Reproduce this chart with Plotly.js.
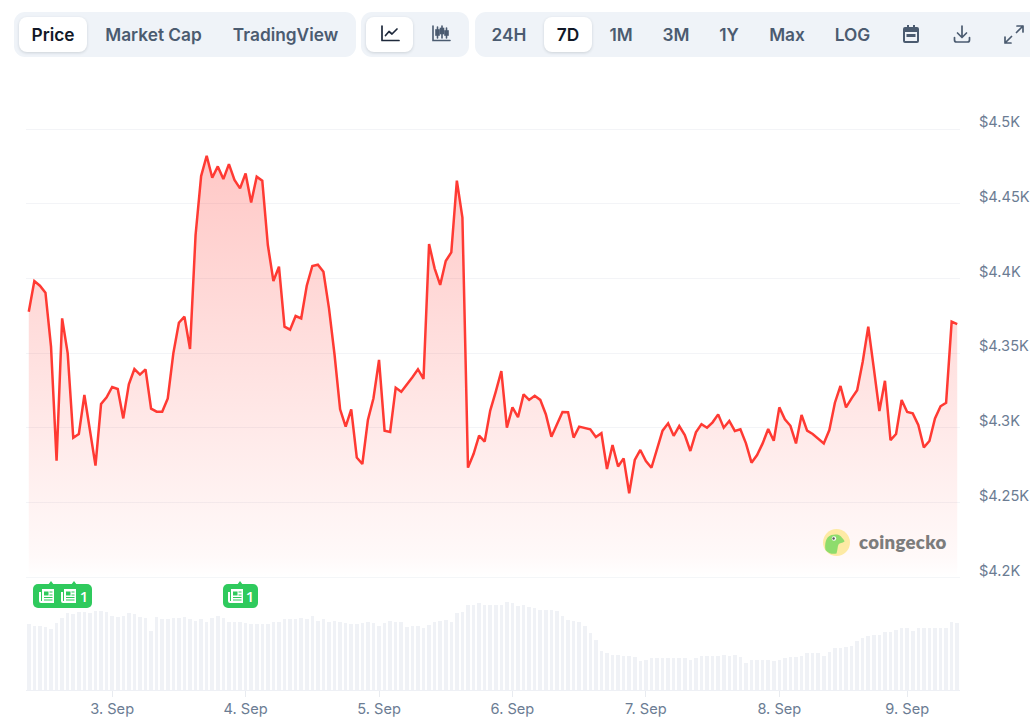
<!DOCTYPE html>
<html>
<head>
<meta charset="utf-8">
<script src="https://cdn.plot.ly/plotly-3.0.1.min.js"></script>
<style>
html,body{margin:0;padding:0;background:#fff;width:1030px;height:721px;overflow:hidden;font-family:Inter,sans-serif}
#chart{position:absolute;left:0;top:0;width:1030px;height:721px}
.grp{position:absolute;top:12px;height:45px;background:#eff3f8;border-radius:11px}
.pill{position:absolute;top:17px;height:35px;background:#fff;border-radius:8px;box-shadow:0 1px 3px rgba(30,41,59,.16)}
.t{position:absolute;top:34.3px;transform:translate(-50%,-50%);font:600 17.3px Inter,sans-serif;color:#4b5b70;white-space:nowrap}
.t.on{color:#111827}
.ic{position:absolute;top:23px;width:22px;height:22px}
.badge{position:absolute;top:584px;height:24px;background:#2fca5d;border-radius:5px}
.tip{position:absolute;top:581px;width:0;height:0;border-left:3.5px solid transparent;border-right:3.5px solid transparent;border-bottom:4px solid #2fca5d}
.ni{position:absolute;top:589px;width:16px;height:14px}
.one{position:absolute;top:596px;transform:translate(-50%,-50%);font:600 15px "Open Sans",sans-serif;color:#fff}
#cg{position:absolute;left:859px;top:541.5px;transform:translateY(-50%);font:800 18.6px Lato,sans-serif;color:#7c7c7c;letter-spacing:.3px}
</style>
</head>
<body>
<div id="chart"></div>

<div class="grp" style="left:14px;width:342px"></div>
<div class="grp" style="left:361px;width:108px"></div>
<div class="grp" style="left:475px;width:570px"></div>
<div class="pill" style="left:19px;width:68px"></div>
<div class="pill" style="left:366px;width:47px"></div>
<div class="pill" style="left:544px;width:48px"></div>
<span class="t on" style="left:53px">Price</span>
<span class="t" style="left:153.5px">Market Cap</span>
<span class="t" style="left:285.5px">TradingView</span>
<span class="t" style="left:509px">24H</span>
<span class="t on" style="left:568px">7D</span>
<span class="t" style="left:621px">1M</span>
<span class="t" style="left:676px">3M</span>
<span class="t" style="left:729px">1Y</span>
<span class="t" style="left:787px">Max</span>
<span class="t" style="left:852.5px">LOG</span>

<svg class="ic" style="left:379px" viewBox="0 0 22 22" fill="none" stroke="#1e293b" stroke-width="1.7" stroke-linecap="round" stroke-linejoin="round"><path d="M3 3v14.5h17"/><path d="M6.5 12.5l3.5-4 3 2.5 5-5"/></svg>
<svg class="ic" style="left:430px" viewBox="0 0 22 22" fill="none" stroke="#4b5b70" stroke-width="1.6" stroke-linecap="round"><path d="M3 3v14.5h17"/><path d="M7.5 4v11M12 3v12M16.5 5v10"/><rect x="6" y="7" width="3" height="5" fill="#4b5b70"/><rect x="10.5" y="5.5" width="3" height="5" fill="#4b5b70"/><rect x="15" y="8" width="3" height="4" fill="#4b5b70"/></svg>
<svg class="ic" style="left:900px" viewBox="0 0 22 22"><path fill="#4b5b70" d="M5 4h2V2h2v2h4V2h2v2h2a2 2 0 0 1 2 2v12a2 2 0 0 1-2 2H5a2 2 0 0 1-2-2V6a2 2 0 0 1 2-2zm0 5v9h12V9z"/><rect x="6.5" y="11" width="9" height="3" fill="#4b5b70"/></svg>
<svg class="ic" style="left:951px" viewBox="0 0 22 22" fill="none" stroke="#4b5b70" stroke-width="1.7" stroke-linecap="round" stroke-linejoin="round"><path d="M11 3v11M6.5 10l4.5 4.5 4.500-4.500"/><path d="M3.500 14.500v2.500a2 2 0 0 0 2 2h11a2 2 0 0 0 2-2v-2.500"/></svg>
<svg class="ic" style="left:1003px" viewBox="0 0 22 22" fill="none" stroke="#4b5b70" stroke-width="1.7" stroke-linecap="round" stroke-linejoin="round"><path d="M14 3h6v6M20 3l-6.500 6.500M8 20H2v-6M2 20l6.500-6.500"/></svg>

<div class="badge" style="left:33px;width:59px"></div>
<div class="tip" style="left:47.500px"></div>
<div class="tip" style="left:70.500px"></div>
<div class="badge" style="left:223px;width:35px"></div>
<div class="tip" style="left:236.500px"></div>
<svg class="ni" style="left:39px" viewBox="0 0 16 14"><path fill="#fff" d="M3 0h12v14H2a2 2 0 0 1-2-2V3h2v9h1z"/><rect x="5" y="2.500" width="4.500" height="4" fill="#2fca5d"/><path stroke="#2fca5d" stroke-width="1.100" d="M10.500 3h3M10.500 6h3M5 8.500h8.500M5 11h8.500"/></svg>
<svg class="ni" style="left:61px" viewBox="0 0 16 14"><path fill="#fff" d="M3 0h12v14H2a2 2 0 0 1-2-2V3h2v9h1z"/><rect x="5" y="2.500" width="4.500" height="4" fill="#2fca5d"/><path stroke="#2fca5d" stroke-width="1.100" d="M10.500 3h3M10.500 6h3M5 8.500h8.500M5 11h8.500"/></svg>
<svg class="ni" style="left:228px" viewBox="0 0 16 14"><path fill="#fff" d="M3 0h12v14H2a2 2 0 0 1-2-2V3h2v9h1z"/><rect x="5" y="2.500" width="4.500" height="4" fill="#2fca5d"/><path stroke="#2fca5d" stroke-width="1.100" d="M10.500 3h3M10.500 6h3M5 8.500h8.500M5 11h8.500"/></svg>
<span class="one" style="left:84px">1</span>
<span class="one" style="left:250px">1</span>

<svg style="position:absolute;left:823px;top:529px" width="27" height="27" viewBox="0 0 27 27"><circle cx="13.500" cy="13.500" r="13.500" fill="#fdeaa4"/><path fill="#8edc6c" d="M2.500 21c-1-6 0-13 6-15 3-1 8-1 9.500 1.500 1 2 3.500 3 3.500 5-2 1.500-5 1.500-6 3-1 2-1 6-2 9-4 1-8 0-11-3.500z"/><circle cx="11" cy="9.500" r="2.200" fill="#fff"/><circle cx="10.600" cy="9.500" r="1.200" fill="#555"/></svg>
<span id="cg">coingecko</span>

<script>
const price = [
4377.8,4398.3,4395.2,4390.5,4354.4,4278.1,4373.3,4349.9,4293.5,4295.9,4322.1,4297.5,4274.8,4316.0,
4320.5,4327.4,4326.1,4306.4,4329.2,4339.4,4335.7,4339.2,4312.9,4310.9,4310.9,4319.8,4349.9,4370.4,
4374.5,4352.8,4429.1,4468.5,4482.1,4467.4,4475.0,4466.5,4476.5,4465.9,4460.3,4470.3,4450.9,4468.1,
4465.4,4422.4,4398.3,4407.9,4367.8,4365.8,4374.9,4373.3,4395.2,4408.4,4409.2,4404.5,4380.0,4349.0,
4312.5,4300.9,4312.5,4280.2,4275.9,4305.4,4319.9,4345.5,4298.2,4297.3,4327.0,4324.3,4328.8,4333.9,
4339.3,4332.8,4423.1,4406.8,4395.7,4411.7,4417.5,4465.5,4440.7,4273.5,4282.6,4294.9,4290.9,4311.6,
4324.3,4338.1,4300.2,4313.8,4307.2,4322.5,4318.8,4321.6,4318.8,4309.2,4294.2,4302.5,4310.7,4310.5,
4293.6,4300.9,4299.8,4299.1,4294.0,4296.5,4272.6,4288.6,4274.2,4279.7,4256.3,4278.6,4285.3,4277.9,
4273.4,4285.3,4298.2,4303.1,4294.8,4301.3,4295.3,4284.6,4297.1,4302.6,4300.2,4303.8,4309.1,4300.2,
4304.7,4298.0,4299.1,4289.7,4276.8,4281.9,4289.7,4299.3,4291.5,4313.8,4305.8,4301.5,4289.7,4308.7,
4298.2,4296.0,4292.6,4289.7,4298.6,4316.9,4328.1,4313.8,4319.8,4325.2,4344.3,4367.8,4339.9,4311.3,
4331.6,4291.9,4296.0,4318.7,4310.7,4309.8,4302.0,4287.0,4291.3,4306.4,4314.5,4316.9,4371.1,4369.5
];

const volume = [
66,64,64,63,61,67,72,77,76,78,78,77,79,79,78,74,73,74,77,76,73,72,59,73,71,71,72,72,73,71,69,71,68,72,74,72,
68,68,68,67,66,66,66,66,68,68,71,71,71,72,71,74,69,71,68,69,
68,67,66,66,67,68,67,64,67,69,68,68,63,64,64,62,65,68,69,70,68,77,78,85,85,87,85,85,85,85,88,87,84,85,83,82,
80,80,80,79,74,70,69,68,64,57,50,39,37,35,35,34,34,33,29,30,32,32,32,32,32,32,
32,30,32,34,34,34,34,35,34,35,33,27,30,30,30,30,29,30,32,33,33,34,37,37,37,34,38,42,42,43,44,49,52,54,55,55,
58,58,60,62,62,59,62,62,62,62,62,62,68,67
];

const priceTicks = [4200,4250,4300,4350,4400,4450,4500];
const priceTickLabels = ["$4.2K","$4.25K","$4.3K","$4.35K","$4.4K","$4.45K","$4.5K"];
const dayTickPoints = [15,39,63,87,111,135,158];
const dayTickLabels = ["3. Sep","4. Sep","5. Sep","6. Sep","7. Sep","8. Sep","9. Sep"];

const pointIndex = price.map((_, i) => i);
const axisText = {family: 'Inter, sans-serif', size: 14.6, color: "#6b7c93"};

Plotly.newPlot("chart", [
  {
    type: "bar", x: pointIndex, y: volume, xaxis: "x", yaxis: "y2",
    width: 0.64, marker: {color: "#f0f2f6", line: {width: 0}}, hoverinfo: "skip"
  },
  {
    type: "scatter", mode: "lines", x: pointIndex, y: price, xaxis: "x", yaxis: "y",
    line: {color: "#ff3a33", width: 2.5, shape: "linear"},
    fill: "tozeroy",
    fillgradient: {
      type: "vertical", start: 4200, stop: 4482,
      colorscale: [[0, "rgba(255,58,51,0.0)"], [0.05, "rgba(255,58,51,0.03)"], [1, "rgba(255,58,51,0.28)"]]
    },
    hoverinfo: "skip"
  }
], {
  width: 1030, height: 721, showlegend: false, bargap: 0,
  paper_bgcolor: "#fff", plot_bgcolor: "#fff",
  margin: {l: 26, r: 70, t: 100, b: 31, pad: 0},
  xaxis: {
    type: "linear", anchor: "y2", domain: [0, 1], range: [-0.5, 167.5],
    tickmode: "array", tickvals: dayTickPoints, ticktext: dayTickLabels,
    showgrid: false, zeroline: false, showline: true, linecolor: "#eef0f5", linewidth: 1,
    ticks: "outside", ticklen: 6, tickcolor: "#e8ebf0", tickwidth: 1,
    tickfont: axisText, ticklabelstandoff: -1
  },
  yaxis: {
    domain: [0.1907, 1], range: [4200, 4519.4], anchor: "x", side: "right",
    tickmode: "array", tickvals: priceTicks, ticktext: priceTickLabels,
    showgrid: true, gridcolor: "#f3f4f7", gridwidth: 1, zeroline: false, showline: false,
    ticks: "", tickfont: axisText, ticklabelstandoff: 18, ticklabelshift: -7
  },
  yaxis2: {
    domain: [0, 0.1907], range: [0, 112.5], anchor: "x",
    showgrid: false, zeroline: false, showline: false, showticklabels: false, ticks: ""
  },
  shapes: [{
    type: "line", xref: "paper", x0: 0, x1: 1, yref: "y", y0: 4200, y1: 4200,
    line: {color: "#e9ecf1", width: 1}
  }]
}, {staticPlot: true, displayModeBar: false});
</script>
</body>
</html>
